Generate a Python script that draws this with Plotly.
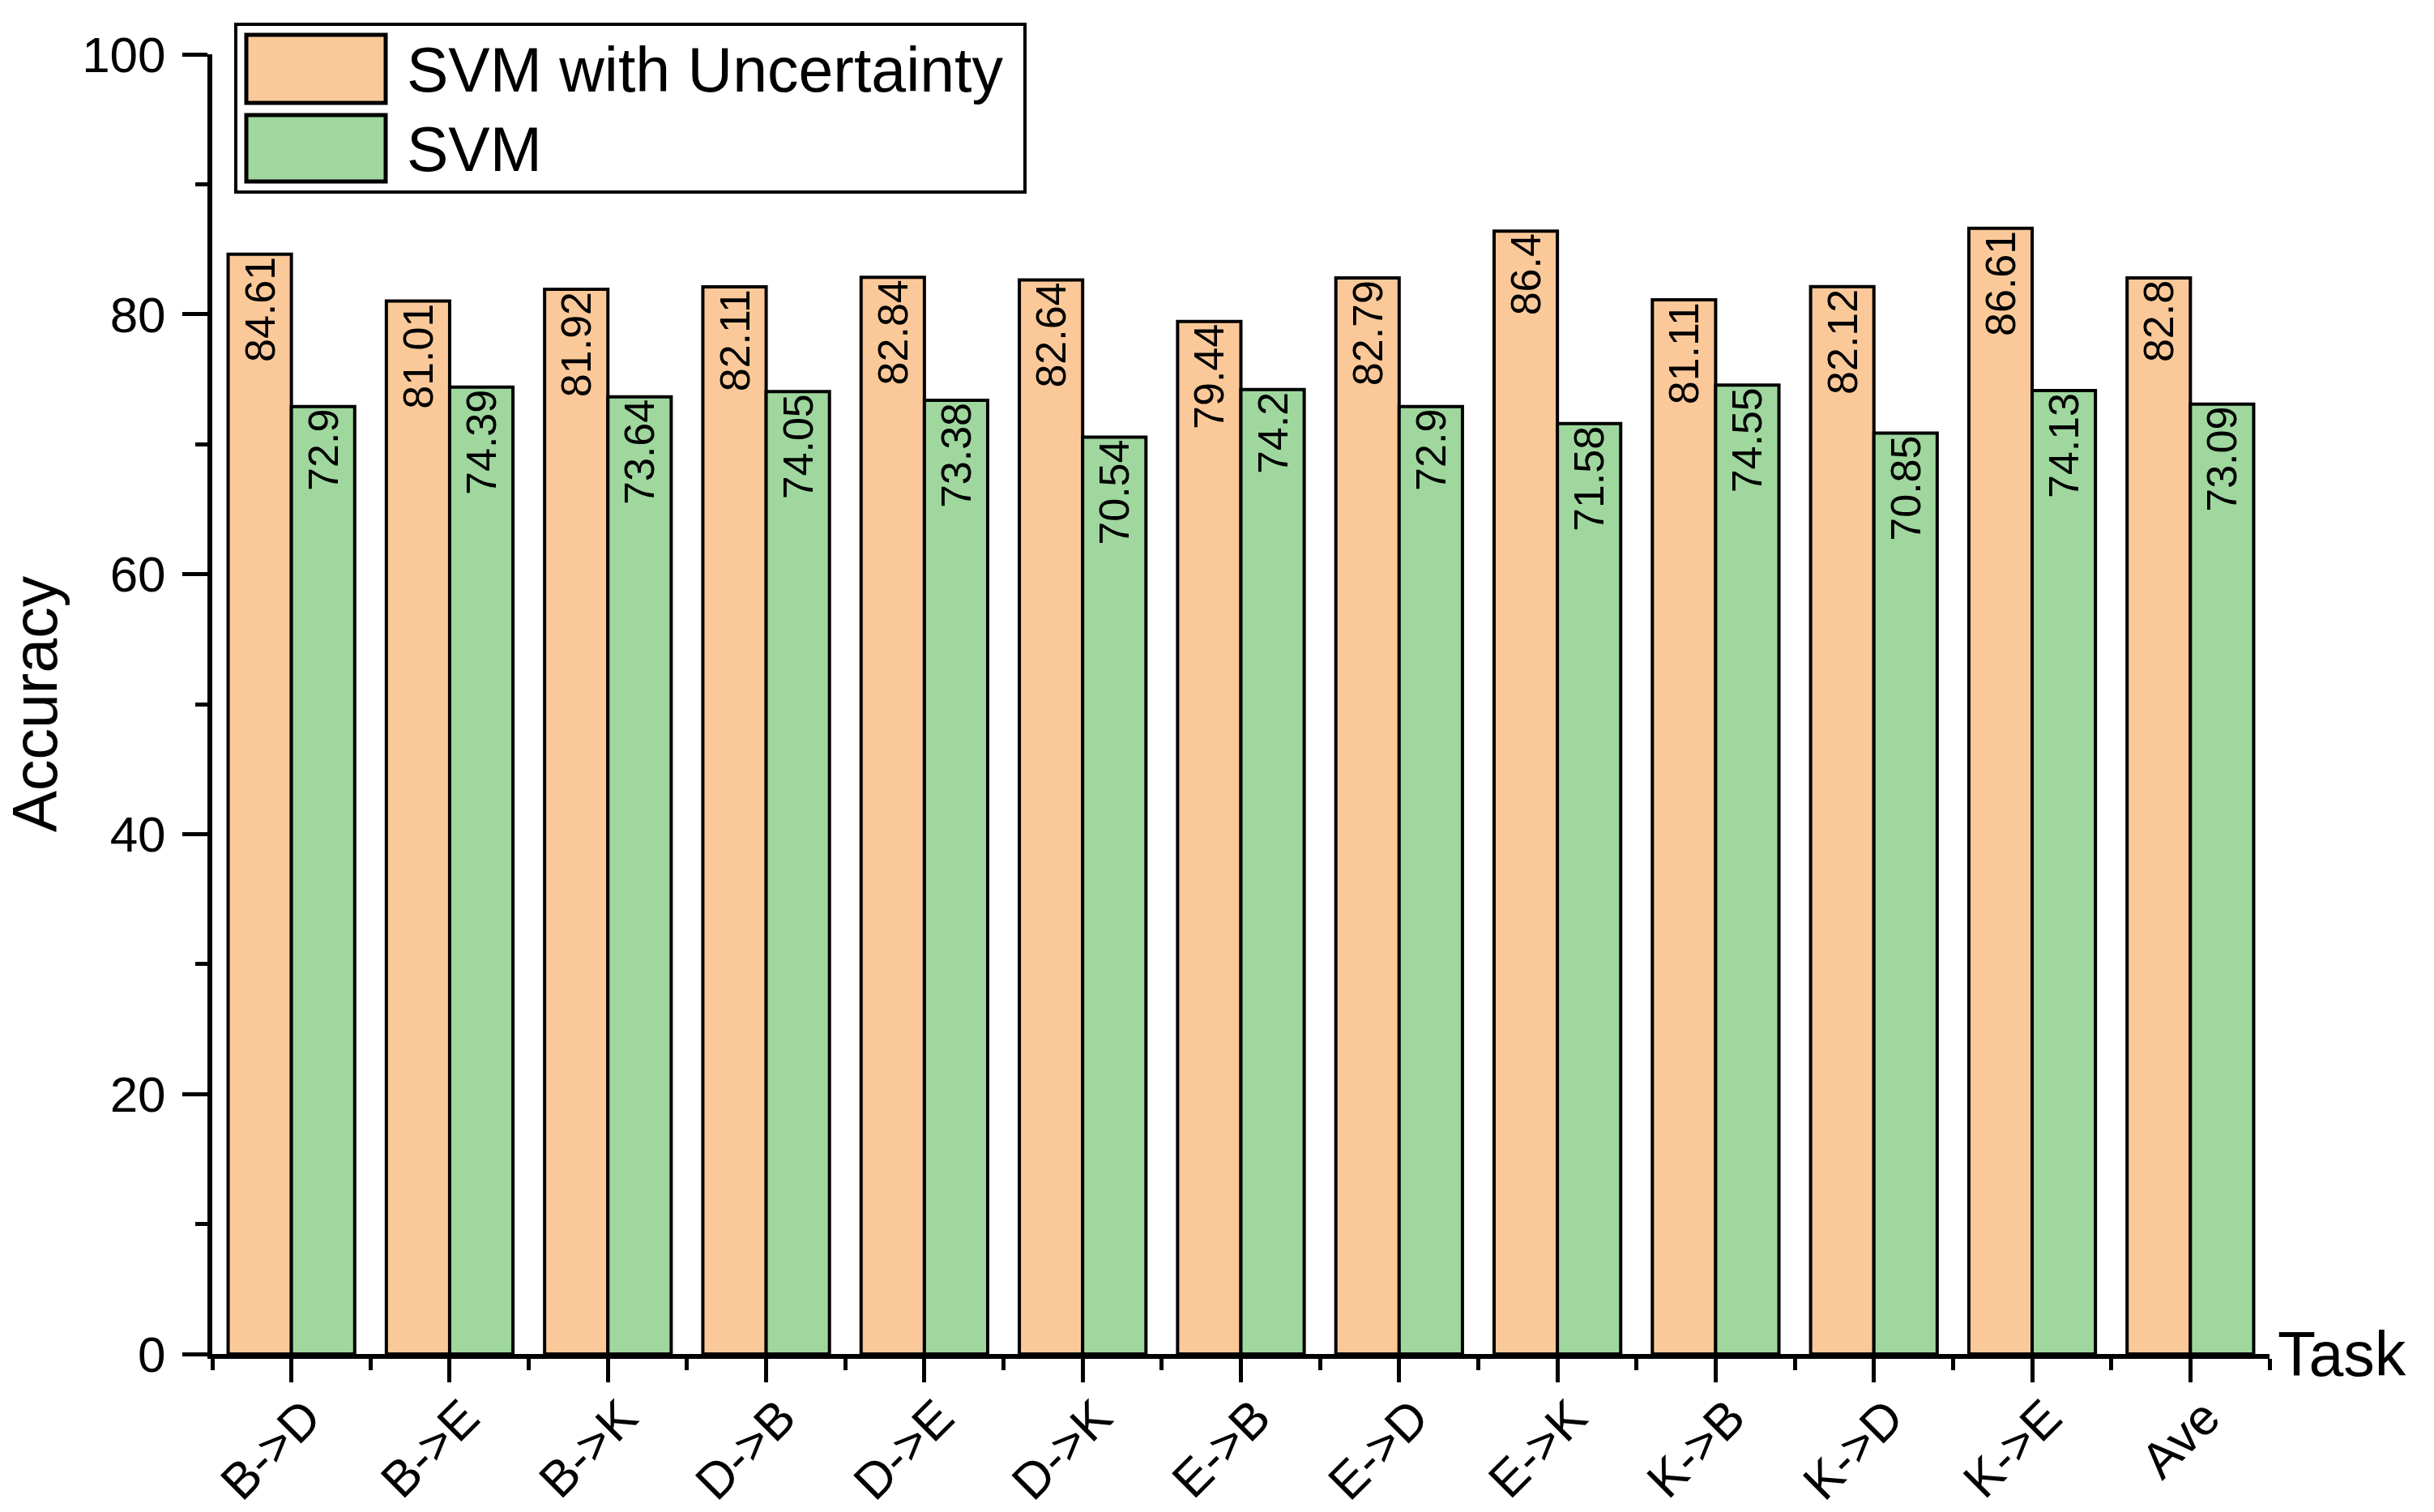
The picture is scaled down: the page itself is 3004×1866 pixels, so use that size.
import plotly.graph_objects as go

# ---- data ----
categories = ["B->D", "B->E", "B->K", "D->B", "D->E", "D->K", "E->B",
              "E->D", "E->K", "K->B", "K->D", "K->E", "Ave"]
svm_unc = [84.61, 81.01, 81.92, 82.11, 82.84, 82.64, 79.44,
           82.79, 86.4, 81.11, 82.12, 86.61, 82.8]
svm = [72.9, 74.39, 73.64, 74.05, 73.38, 70.54, 74.2,
       72.9, 71.58, 74.55, 70.85, 74.13, 73.09]
series_names = ["SVM with Uncertainty", "SVM"]
y_ticks = [0, 20, 40, 60, 80, 100]

# ---- style ----
W, H = 3004, 1866
ML, MR, MT, MB = 262, 203, 67, 195
ORANGE = "#FBC999"
GREEN = "#9FD79E"
FONT = "Liberation Sans, Arial, sans-serif"

x_idx = list(range(len(categories)))

fig = go.Figure()
for name, vals, col in [(series_names[0], svm_unc, ORANGE), (series_names[1], svm, GREEN)]:
    fig.add_trace(go.Bar(
        x=x_idx, y=vals, name=name,
        marker=dict(color=col, line=dict(color="black", width=4)),
        text=[str(v) for v in vals],
        textposition="inside", insidetextanchor="end", textangle=-90,
        constraintext="none",
        textfont=dict(family=FONT, size=52, color="black"),
        showlegend=False,
    ))

# helpers for the hand-drawn legend (pixel -> paper)
PW = W - ML - MR
PH = H - MT - MB
def px(xp):
    return (xp - ML) / PW
def py(yp):
    return (H - MB - yp) / PH

shapes = [
    dict(type="rect", xref="paper", yref="paper", x0=px(291), x1=px(1265), y0=py(237), y1=py(30),
         line=dict(color="black", width=4), fillcolor="white", layer="above"),
    dict(type="rect", xref="paper", yref="paper", x0=px(304), x1=px(476), y0=py(127), y1=py(43),
         line=dict(color="black", width=5), fillcolor=ORANGE, layer="above"),
    dict(type="rect", xref="paper", yref="paper", x0=px(304), x1=px(476), y0=py(224), y1=py(142),
         line=dict(color="black", width=5), fillcolor=GREEN, layer="above"),
]
annotations = [
    dict(text=series_names[0], xref="paper", yref="paper", x=px(500), y=py(86),
         xanchor="left", yanchor="middle", showarrow=False,
         font=dict(family=FONT, size=77, color="black")),
    dict(text=series_names[1], xref="paper", yref="paper", x=px(500), y=py(184),
         xanchor="left", yanchor="middle", showarrow=False,
         font=dict(family=FONT, size=77, color="black")),
    dict(text="Task", xref="paper", yref="y", x=1, y=0, xshift=8,
         xanchor="left", yanchor="middle", showarrow=False,
         font=dict(family=FONT, size=77, color="black")),
]

fig.update_layout(
    width=W, height=H,
    margin=dict(l=ML, r=MR, t=MT, b=MB, autoexpand=False),
    paper_bgcolor="white", plot_bgcolor="white",
    barmode="group", bargap=0.2, bargroupgap=0,
    font=dict(family=FONT, color="black"),
    shapes=shapes, annotations=annotations,
    showlegend=False,
)
fig.update_xaxes(
    range=[-0.5, len(categories) - 0.5],
    tickmode="array", tickvals=x_idx, ticktext=categories,
    tickangle=-45, tickfont=dict(family=FONT, size=62, color="black"),
    ticks="outside", ticklen=29, tickwidth=5, tickcolor="black",
    ticklabelstandoff=-18, ticklabelshift=18,
    minor=dict(tickmode="linear", tick0=0.5, dtick=1, ticks="outside",
               ticklen=14, tickwidth=5, tickcolor="black"),
    showline=True, linecolor="black", linewidth=6,
    showgrid=False, zeroline=False, automargin=False,
)
fig.update_yaxes(
    range=[0, 100],
    tickmode="array", tickvals=y_ticks,
    tickfont=dict(family=FONT, size=62, color="black"),
    ticks="outside", ticklen=31, tickwidth=5, tickcolor="black",
    minor=dict(tickmode="linear", tick0=0, dtick=10, ticks="outside",
               ticklen=15, tickwidth=5, tickcolor="black"),
    ticklabelstandoff=8,
    showline=True, linecolor="black", linewidth=6,
    showgrid=False, zeroline=False, automargin=False,
    title=dict(text="Accuracy", font=dict(family=FONT, size=77, color="black"), standoff=7),
)

fig.write_html("out.html", config={"displayModeBar": False},
               post_script="document.body.style.margin='0';document.body.style.overflow='hidden';")
